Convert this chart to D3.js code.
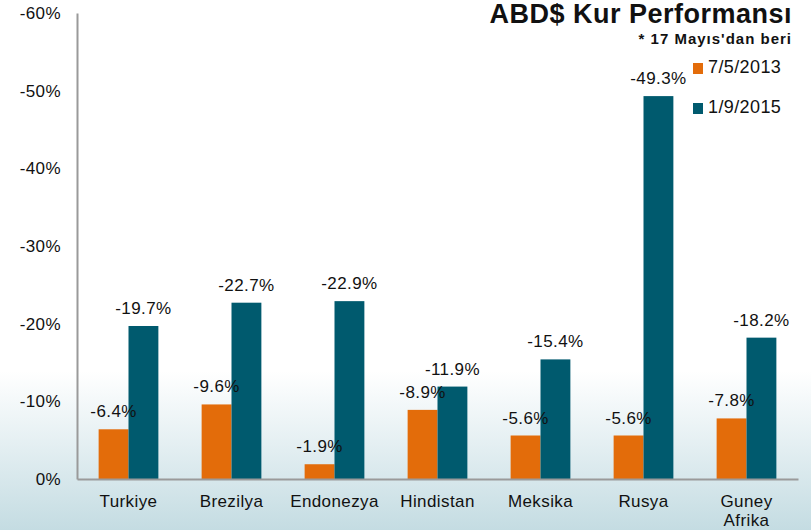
<!DOCTYPE html>
<html>
<head>
<meta charset="utf-8">
<script src="https://cdn.jsdelivr.net/npm/d3@7"></script>
<style>
  body { margin: 0; background: #fff; }
  text { font-family: "Liberation Sans", Arial, sans-serif; fill: #111; }
</style>
</head>
<body>
<div id="chart"></div>
<script>
// data
var countries = ["Turkiye", "Brezilya", "Endonezya", "Hindistan", "Meksika", "Rusya", "Guney Afrika"];
var since2013 = [-6.4, -9.6, -1.9, -8.9, -5.6, -5.6, -7.8];
var since2015 = [-19.7, -22.7, -22.9, -11.9, -15.4, -49.3, -18.2];
var seriesNames = ["7/5/2013", "1/9/2015"];
var yTicks = [0, -10, -20, -30, -40, -50, -60];

var w = 811, h = 530;
var colors = ["#e36c0a", "#005a6e"];
var fs = '17px', ls = '0.4px';

var svg = d3.select('#chart').append('svg')
  .attr('width', w)
  .attr('height', h);

// faint bluish background at the bottom
var defs = svg.append('defs');
var grad = defs.append('linearGradient')
  .attr('id', 'bg')
  .attr('x1', 0).attr('y1', 0).attr('x2', 0).attr('y2', 1);
grad.append('stop').attr('offset', '0%').attr('stop-color', '#ffffff');
grad.append('stop').attr('offset', '70%').attr('stop-color', '#ffffff');
grad.append('stop').attr('offset', '84%').attr('stop-color', '#e4eff2');
grad.append('stop').attr('offset', '100%').attr('stop-color', '#c4dce2');
svg.append('rect').attr('width', w).attr('height', h).attr('fill', 'url(#bg)');

var mLeft = 77, mRight = 798, mTop = 13, mBottom = 479;

var x = d3.scaleBand()
  .domain(countries)
  .range([mLeft, mRight])
  .paddingInner(0.42)
  .paddingOuter(0.21);

var x1 = d3.scaleBand()
  .domain(seriesNames)
  .range([0, x.bandwidth()]);

var y = d3.scaleLinear()
  .domain([0, -60])
  .range([mBottom, mTop]);

// y axis
var yAxis = svg.append('g')
  .attr('transform', 'translate(' + mLeft + ',0)')
  .call(d3.axisLeft(y).tickValues(yTicks).tickSize(0).tickPadding(16)
    .tickFormat(function(d) { return d + '%'; }));
yAxis.select('.domain').attr('stroke', '#9a9a9a').attr('stroke-width', 2);
yAxis.selectAll('text')
  .style('font-size', fs).style('letter-spacing', ls)
  .style('font-family', '"Liberation Sans", Arial, sans-serif')
  .attr('fill', '#111');

// bars
var rows = countries.map(function(c, i) {
  return { country: c, values: [since2013[i], since2015[i]] };
});

var groups = svg.selectAll('g.country')
  .data(rows)
  .enter().append('g')
  .attr('class', 'country')
  .attr('transform', function(d) { return 'translate(' + x(d.country) + ',0)'; });

function pairs(d) {
  return d.values.map(function(v, i) { return { s: seriesNames[i], v: v, i: i }; });
}

groups.selectAll('rect')
  .data(pairs)
  .enter().append('rect')
  .attr('x', function(d) { return x1(d.s); })
  .attr('width', x1.bandwidth())
  .attr('y', function(d) { return y(d.v); })
  .attr('height', function(d) { return y(0) - y(d.v); })
  .style('fill', function(d) { return colors[d.i]; });

groups.selectAll('text.val')
  .data(pairs)
  .enter().append('text')
  .attr('class', 'val')
  .attr('x', function(d) { return x1(d.s) + x1.bandwidth() / 2; })
  .attr('y', function(d) { return y(d.v) - 12; })
  .attr('text-anchor', 'middle')
  .style('font-size', fs).style('letter-spacing', ls)
  .text(function(d) { return d.v.toFixed(1) + '%'; });

// x axis
var xAxis = svg.append('g')
  .attr('transform', 'translate(0,' + mBottom + ')')
  .call(d3.axisBottom(x).tickSize(0));
xAxis.select('.domain').attr('stroke', '#9a9a9a').attr('stroke-width', 2);
xAxis.selectAll('text').remove();
xAxis.selectAll('.tick').each(function(d) {
  var t = d3.select(this).append('text')
    .attr('text-anchor', 'middle')
    .attr('y', 28)
    .style('font-size', fs).style('letter-spacing', ls)
    .style('font-family', '"Liberation Sans", Arial, sans-serif')
    .attr('fill', '#111');
  d.split(' ').forEach(function(p, k) {
    t.append('tspan').attr('x', 0).attr('dy', k == 0 ? 0 : 19).text(p);
  });
});

// title
svg.append('text')
  .attr('x', 792).attr('y', 23)
  .attr('text-anchor', 'end')
  .style('font-size', '27px')
  .style('letter-spacing', '0.5px')
  .style('font-weight', 'bold')
  .text('ABD$ Kur Performansı');

svg.append('text')
  .attr('x', 792).attr('y', 44)
  .attr('text-anchor', 'end')
  .style('font-size', '15px')
  .style('letter-spacing', '1px')
  .style('font-weight', 'bold')
  .text("* 17 Mayıs'dan beri");

// legend
var legend = svg.selectAll('g.legend')
  .data(seriesNames)
  .enter().append('g')
  .attr('class', 'legend')
  .attr('transform', function(d, i) { return 'translate(693,' + (63 + i * 40) + ')'; });

legend.append('rect')
  .attr('width', 10).attr('height', 11)
  .style('fill', function(d, i) { return colors[i]; });

legend.append('text')
  .attr('x', 15).attr('y', 10)
  .style('font-size', '18px').style('letter-spacing', ls)
  .text(function(d) { return d; });
</script>
</body>
</html>
